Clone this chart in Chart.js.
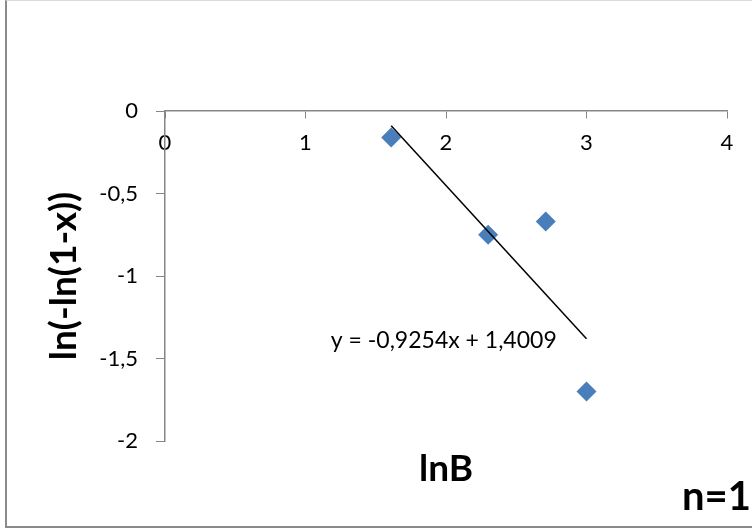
<!DOCTYPE html>
<html>
<head>
<meta charset="utf-8">
<script src="https://cdn.jsdelivr.net/npm/chart.js@4.4.1/dist/chart.umd.min.js"></script>
<style>
  html,body{margin:0;padding:0;background:#fff;overflow:hidden}
  #wrap{position:relative;width:752px;height:531px}
  #frame{position:absolute;left:5px;top:0;width:800px;height:525px;border-left:2px solid #8a8a8a;border-bottom:2px solid #8a8a8a;border-top:1px solid #dcdcdc}
  #c{position:absolute;left:0;top:0}
</style>
</head>
<body>
<div id="wrap">
  <div id="frame"></div>
  <canvas id="c" width="752" height="531"></canvas>
</div>
<script>
// measured points (lnB, ln(-ln(1-x)))
var lnB   = [1.61, 2.30, 2.71, 3.00];
var lnLn  = [-0.16, -0.75, -0.67, -1.70];
// linear trend line ends
var trendX = [1.61, 3.00];
var trendY = [-0.09, -1.38];
var xTicks = [0, 1, 2, 3, 4];
var yTicks = [0, -0.5, -1, -1.5, -2];
var eqText = 'y = -0,9254x + 1,4009';
var xTitle = 'lnB', yTitle = 'ln(-ln(1-x))', tag = 'n=1';

var FONT = "Lato, 'Open Sans', sans-serif";
var AX = '#868686';

function pts(xs, ys){return xs.map(function(x,i){return {x:x,y:ys[i]}})}
function comma(v){return String(v).replace('.', ',')}

var textPlugin = {
  id:'texts',
  afterDraw:function(ch){
    var ctx=ch.ctx, xs=ch.scales.x, ys=ch.scales.y;
    ctx.save();
    ctx.fillStyle='#000';
    ctx.textBaseline='middle';
    // trendline equation
    ctx.font="23px "+FONT; ctx.textAlign='left';
    ctx.fillText(eqText, xs.getPixelForValue(1.18), ys.getPixelForValue(-1.39));
    // x title
    ctx.font="bold 37px "+FONT; ctx.textAlign='center';
    ctx.fillText(xTitle, (xs.left+xs.right)/2, 469);
    // series tag, bottom right
    ctx.font="bold 40px "+FONT; ctx.textAlign='right'; ctx.textBaseline='alphabetic';
    ctx.fillText(tag, 751, 510);
    ctx.restore();
  }
};

new Chart(document.getElementById('c'), {
  type:'scatter',
  data:{datasets:[
    {label:'trend', type:'line', data:pts(trendX,trendY), borderColor:'#000', borderWidth:1.5, pointRadius:0, fill:false},
    {label:'n=1', data:pts(lnB,lnLn), pointStyle:'rectRot', pointRadius:10, backgroundColor:'#4a7ebb', borderWidth:0}
  ]},
  options:{
    responsive:false, animation:false, devicePixelRatio:1,
    layout:{padding:{left:6, top:111, right:25, bottom:90}},
    plugins:{legend:{display:false}, tooltip:{enabled:false}},
    scales:{
      x:{
        type:'linear', min:0, max:4, position:{y:0},
        afterBuildTicks:function(s){s.ticks=xTicks.map(function(v){return {value:v}})},
        afterFit:function(s){s.height=0},
        grid:{drawOnChartArea:false, drawTicks:true, tickLength:7, color:AX},
        border:{display:true, color:AX, width:1.5},
        ticks:{color:'#000', padding:12, font:{family:FONT, size:22}, maxRotation:0}
      },
      y:{
        type:'linear', min:-2, max:0, position:'left',
        afterBuildTicks:function(s){s.ticks=yTicks.map(function(v){return {value:v}})},
        afterFit:function(s){s.width=159},
        grid:{drawOnChartArea:false, drawTicks:true, tickLength:9, color:AX},
        border:{display:true, color:AX, width:1.5},
        ticks:{color:'#000', padding:18, font:{family:FONT, size:22}, callback:function(v){return comma(v)}},
        title:{display:true, text:yTitle, color:'#000', font:{family:FONT, size:37, weight:'bold'}, padding:{top:36}}
      }
    }
  },
  plugins:[textPlugin]
});
</script>
</body>
</html>
